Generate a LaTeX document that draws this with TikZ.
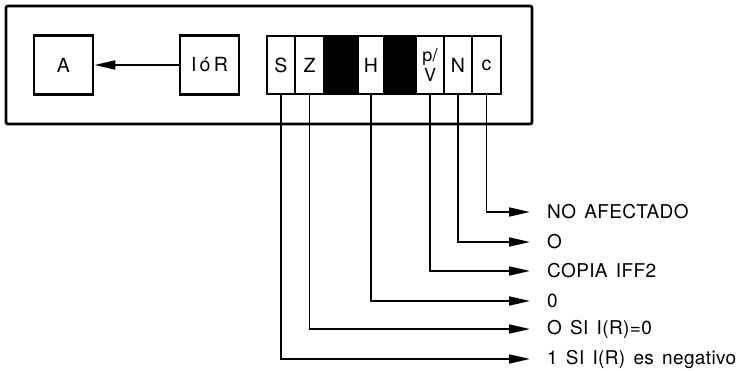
\documentclass[tikz,border=0pt]{standalone}
\usepackage{fontspec}
\setmainfont{TeX Gyre Heros}
\newfontfamily\boxfont[LetterSpace=2]{TeX Gyre Heros}
\newfontfamily\lblfont[LetterSpace=2,WordSpace=1.45]{TeX Gyre Heros}
\usetikzlibrary{arrows.meta}
\begin{document}
\begin{tikzpicture}[x=1pt,y=-1pt,
  every node/.style={font=\boxfont\fontsize{19.5}{20}\selectfont},
  reg/.style={draw,line width=2.8pt,inner sep=0pt,minimum width=59pt,minimum height=59pt},
  cell/.style={draw,line width=2.6pt,inner sep=0pt,minimum height=58pt},
  blk/.style={cell,fill=black},
  conn/.style={line width=1.9pt,-{Triangle[length=21pt,width=9pt]}},
  lbl/.style={anchor=west,inner sep=0pt,font=\lblfont\fontsize{19}{20}\selectfont}]
\useasboundingbox (0,0) rectangle (737,370);
\draw[line width=2.8pt,rounded corners=2pt] (6,6) rectangle (532,124);
\node[reg] (A) at (63.5,65) {A};
\node[reg] (IR) at (209.5,65) {I\,ó\,R};
\node[cell,minimum width=28pt] (S) at (281,65) {S};
\node[cell,minimum width=29pt] (Z) at (309.5,65) {Z};
\node[blk,minimum width=34pt] (B1) at (341,65) {};
\node[cell,minimum width=26pt] (H) at (371,65) {H};
\node[blk,minimum width=32pt] (B2) at (400,65) {};
\node[cell,minimum width=28pt] (PV) at (430,65) {};
\node[inner sep=0pt,font=\fontsize{18}{18}\selectfont] (PVp) at (430,57) {p/};
\node[inner sep=0pt,font=\fontsize{18}{18}\selectfont] (PVv) at (430,75) {V};
\node[cell,minimum width=28pt] (N) at (458,65) {N};
\node[cell,minimum width=29pt] (C) at (486.5,65) {c};
\draw[line width=1.9pt,-{Triangle[length=21pt,width=9pt]}] (IR.west) -- (A.east);
\coordinate (tC) at (530,212);
\coordinate (tN) at (530,242);
\coordinate (tPV) at (530,271);
\coordinate (tH) at (530,301);
\coordinate (tZ) at (530,329);
\coordinate (tS) at (530,359);
\draw[conn] (C.south) |- (tC);
\draw[conn] (N.south) |- (tN);
\draw[conn] (PV.south) |- (tPV);
\draw[conn] (H.south) |- (tH);
\draw[conn] (Z.south) |- (tZ);
\draw[conn] (S.south) |- (tS);
\node[lbl] (lC) at (547,212) {NO AFECTADO};
\node[lbl] (lN) at (547,242) {O};
\node[lbl] (lPV) at (547,271) {COPIA IFF2};
\node[lbl] (lH) at (547,301) {0};
\node[lbl] (lZ) at (547,329) {O SI I(R)=0};
\node[lbl] (lS) at (547,359) {1 SI I(R) es negativo};
\end{tikzpicture}
\end{document}
